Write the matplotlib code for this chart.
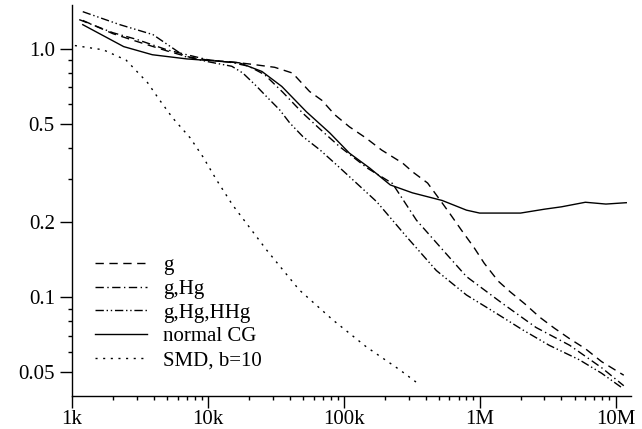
import matplotlib
matplotlib.use("Agg")
import matplotlib.pyplot as plt
from matplotlib.ticker import FixedLocator, FixedFormatter, NullFormatter

plt.rcParams['font.family'] = ['Liberation Serif', 'DejaVu Serif']
plt.rcParams['font.size'] = 15
plt.rcParams['lines.scale_dashes'] = False

# g
x_g = [1.2e3, 2e3, 3e3, 5e3, 7e3, 1e4, 1.5e4, 2.03e4, 3.1e4, 4.2e4, 5.6e4, 6.9e4, 8.6e4, 1.1e5,
       1.45e5, 1.9e5, 2.72e5, 3.22e5, 4.14e5, 5.06e5, 6e5, 7.35e5, 9.12e5, 1.08e6, 1.37e6, 1.68e6,
       2.15e6, 2.77e6, 3.55e6, 4.6e6, 6e6, 7.9e6, 1.15e7]
y_g = [1.3, 1.15, 1.07, 0.98, 0.93, 0.9, 0.885, 0.868, 0.842, 0.798, 0.673, 0.62, 0.542, 0.485,
       0.438, 0.391, 0.346, 0.319, 0.288, 0.248, 0.218, 0.186, 0.158, 0.137, 0.116, 0.105,
       0.094, 0.083, 0.075, 0.068, 0.062, 0.055, 0.0485]

# g,Hg
x_ghg = [1.13e3, 2e3, 3e3, 5e3, 7e3, 1e4, 1.5e4, 2.0e4, 2.62e4, 3.55e4, 5e4, 7e4, 9.3e4, 1.5e5,
         2.28e5, 3.43e5, 5.35e5, 8e5, 1.47e6, 2.6e6, 4.6e6, 7.9e6, 1.15e7]
y_ghg = [1.31, 1.16, 1.09, 0.99, 0.946, 0.903, 0.88, 0.85, 0.786, 0.669, 0.55, 0.464, 0.404, 0.33,
         0.287, 0.204, 0.155, 0.121, 0.0944, 0.0755, 0.064, 0.052, 0.044]

# g,Hg,HHg
x_ghghhg = [1.2e3, 2.25e3, 3.94e3, 6.8e3, 1e4, 1.5e4, 1.81e4, 2.29e4, 2.7e4, 3.38e4, 4e4, 5e4,
            6.7e4, 8.9e4, 1.75e5, 2.9e5, 4.8e5, 8e5, 1.33e6, 2.06e6, 3.25e6, 5.4e6, 7.9e6, 1.1e7]
y_ghghhg = [1.41, 1.25, 1.14, 0.93, 0.887, 0.85, 0.798, 0.705, 0.642, 0.567, 0.503, 0.443,
            0.391, 0.34, 0.242, 0.175, 0.128, 0.102, 0.086, 0.074, 0.064, 0.056, 0.0494, 0.0434]

# normal CG
x_cg = [1.2e3, 2.4e3, 3.9e3, 7e3, 1.7e4, 2.5e4, 3.5e4, 5.3e4, 7.9e4, 1.1e5, 1.55e5, 2.2e5, 3.2e5,
        5.3e5, 8e5, 1e6, 2e6, 3e6, 4e6, 6e6, 8.5e6, 1.2e7]
y_cg = [1.25, 1.02, 0.946, 0.91, 0.878, 0.81, 0.705, 0.558, 0.458, 0.38, 0.331, 0.283, 0.263,
        0.245, 0.224, 0.218, 0.218, 0.226, 0.231, 0.241, 0.237, 0.24]

# SMD, b=10
x_smd = [1.05e3, 1.7e3, 2.5e3, 3.6e3, 4.4e3, 5.5e3, 7.4e3, 9.2e3, 1.16e4, 1.52e4, 2.7e4, 4.7e4,
         8.3e4, 1.47e5, 2.58e5, 3.5e5]
y_smd = [1.03, 0.99, 0.90, 0.73, 0.623, 0.527, 0.438, 0.367, 0.296, 0.235, 0.155, 0.107, 0.081,
         0.063, 0.051, 0.045]

x_ticks = [1e3, 1e4, 1e5, 1e6, 1e7]
x_labels = ["1k", "10k", "100k", "1M", "10M"]
y_ticks = [0.05, 0.1, 0.2, 0.5, 1.0]
y_labels = ["0.05", "0.1", "0.2", "0.5", "1.0"]
y_minor = [0.06, 0.07, 0.08, 0.09, 0.3, 0.4, 0.6, 0.7, 0.8, 0.9]

fig = plt.figure(figsize=(6.42, 4.29), dpi=100)
ax = fig.add_axes([72 / 642, 1 - 396 / 429, 559 / 642, 391 / 429])

lw = 1.0
ax.plot(x_g, y_g, color='black', lw=lw, linestyle=(0, (6, 4)), label="g")
ax.plot(x_ghg, y_ghg, color='black', lw=lw, linestyle=(0, (6, 2.5, 1, 2.5)), label="g,Hg")
ax.plot(x_ghghhg, y_ghghhg, color='black', lw=lw, linestyle=(0, (6, 2, 1, 2, 1, 2)), label="g,Hg,HHg")
ax.plot(x_cg, y_cg, color='black', lw=lw, linestyle='-', label="normal CG")
ax.plot(x_smd, y_smd, color='black', lw=lw, linestyle=(0, (1.5, 4)), label="SMD, b=10")

ax.set_xscale('log')
ax.set_yscale('log')
ax.set_xlim(1e3, 1.3e7)
ax.set_ylim(0.04, 1.5)

ax.xaxis.set_major_locator(FixedLocator(x_ticks))
ax.xaxis.set_major_formatter(FixedFormatter(x_labels))
ax.xaxis.set_minor_locator(FixedLocator([m * d for d in [1e3, 1e4, 1e5, 1e6, 1e7]
                                         for m in range(2, 10) if m * d <= 1.3e7]))
ax.xaxis.set_minor_formatter(NullFormatter())
ax.yaxis.set_major_locator(FixedLocator(y_ticks))
ax.yaxis.set_major_formatter(FixedFormatter(y_labels))
ax.yaxis.set_minor_locator(FixedLocator(y_minor))
ax.yaxis.set_minor_formatter(NullFormatter())

for s in ['top', 'right']:
    ax.spines[s].set_visible(False)
for s in ['left', 'bottom']:
    ax.spines[s].set_linewidth(1.0)

ax.tick_params(which='major', direction='out', length=8.4, width=1.0, labelsize=15)
ax.tick_params(which='minor', direction='out', length=3.1, width=1.0)
ax.tick_params(axis='y', which='major', pad=4)
ax.tick_params(axis='x', which='major', pad=1.5)

ax.legend(loc='lower left', bbox_to_anchor=(0.041, 0.066), frameon=False, fontsize=15,
          handlelength=2.5, handletextpad=0.77, labelspacing=0.2, borderpad=0, borderaxespad=0)

fig.savefig("out.png", dpi=100)
